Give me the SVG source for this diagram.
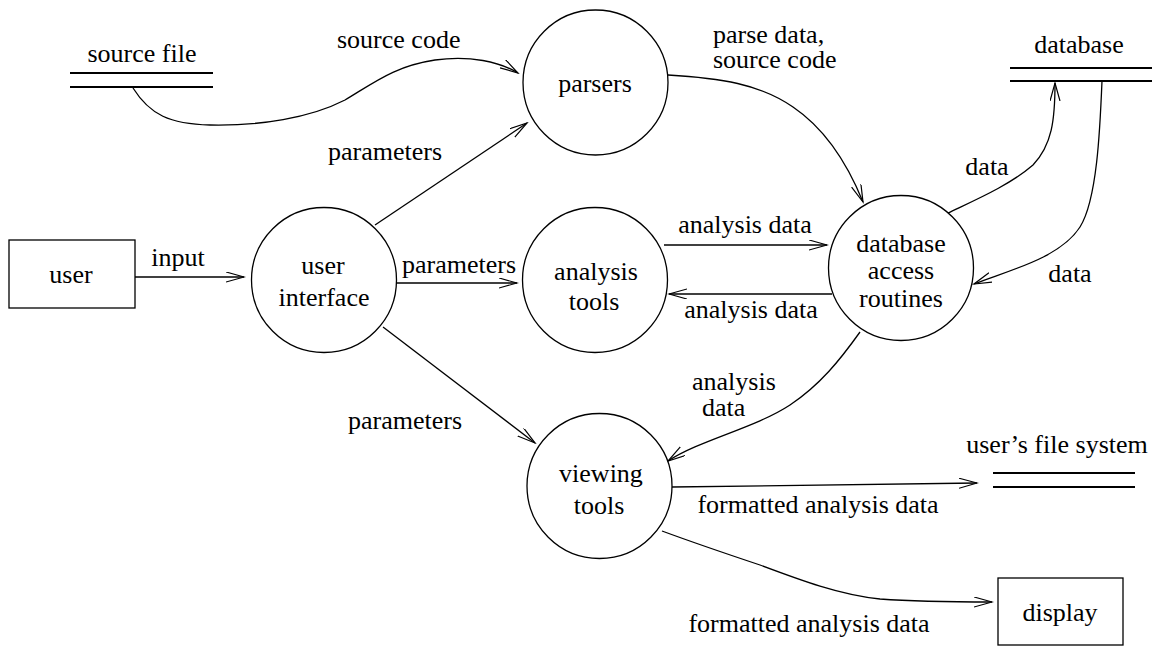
<svg xmlns="http://www.w3.org/2000/svg" width="1159" height="646" viewBox="0 0 1159 646">
  <style>
    text { font-family: 'Liberation Serif', 'Times New Roman', serif; font-size: 26px; fill: #000; }
    .c { text-anchor: middle; }
    .node { fill: #fff; stroke: #000; stroke-width: 1.3; }
    .store { stroke: #000; stroke-width: 2.2; }
    .flow { fill: none; stroke: #000; stroke-width: 1.3; marker-end: url(#arrow); }
  </style>
  <defs>
    <!-- open, narrow arrowhead used on every data flow -->
    <marker id="arrow" markerUnits="userSpaceOnUse" markerWidth="20" markerHeight="12" refX="18" refY="5" orient="auto" viewBox="0 0 20 12">
      <path d="M0,0 L18,5 L0,10" fill="none" stroke="#000" stroke-width="1.2"/>
    </marker>
  </defs>

  <!-- data flows -->
  <g id="connectors">
    <path class="flow" d="M135,277 L244,277"/>
    <path class="flow" d="M133,88 C150,115 170,124 210,125 C260,126 310,118 345,100 C375,82 395,66 435,60 C470,55 500,62 518,73"/>
    <path class="flow" d="M375,225 L527,123"/>
    <path class="flow" d="M396,283 L517,283"/>
    <path class="flow" d="M383,327 L535,443"/>
    <path class="flow" d="M668,75 C720,78 760,84 793,107 C830,132 850,170 863,202"/>
    <path class="flow" d="M664,245 L827,245"/>
    <path class="flow" d="M832,294 L669,294"/>
    <path class="flow" d="M948,213 C975,200 1010,185 1033,165 C1052,145 1055,120 1055,83"/>
    <path class="flow" d="M1102,81 C1100,130 1097,200 1080,227 C1060,258 1010,270 974,284"/>
    <path class="flow" d="M860,332 C840,360 820,385 790,405 C755,428 700,440 668,461"/>
    <path class="flow" d="M672,487 L977,483"/>
    <path class="flow" d="M662,531 C700,545 730,555 760,565 C800,580 840,595 880,599 C920,602 960,602 992,602"/>
  </g>

  <!-- flow labels -->
  <g id="labels">
    <text class="c" x="178" y="266">input</text>
    <text x="337" y="48">source code</text>
    <text class="c" x="385" y="160">parameters</text>
    <text class="c" x="459" y="273">parameters</text>
    <text class="c" x="405" y="429">parameters</text>
    <text x="713" y="43">parse data,</text>
    <text x="713" y="68">source code</text>
    <text class="c" x="745" y="233">analysis data</text>
    <text class="c" x="751" y="318">analysis data</text>
    <text class="c" x="987" y="175">data</text>
    <text class="c" x="1070" y="282">data</text>
    <text x="692" y="390">analysis</text>
    <text x="702" y="416">data</text>
    <text class="c" x="818" y="513">formatted analysis data</text>
    <text class="c" x="809" y="632">formatted analysis data</text>
  </g>

  <!-- external entities -->
  <g id="user">
    <rect class="node" x="9" y="240" width="126" height="68"/>
    <text class="c" x="71" y="283">user</text>
  </g>
  <g id="display">
    <rect class="node" x="998" y="578" width="125" height="67"/>
    <text class="c" x="1060" y="621">display</text>
  </g>

  <!-- data stores -->
  <g id="source-file">
    <line class="store" x1="70" y1="73" x2="213" y2="73"/>
    <line class="store" x1="70" y1="87" x2="213" y2="87"/>
    <text class="c" x="142" y="62">source file</text>
  </g>
  <g id="database">
    <line class="store" x1="1010" y1="68" x2="1152" y2="68"/>
    <line class="store" x1="1010" y1="81" x2="1152" y2="81"/>
    <text class="c" x="1079" y="53">database</text>
  </g>
  <g id="users-file-system">
    <line class="store" x1="993" y1="473" x2="1135" y2="473"/>
    <line class="store" x1="993" y1="487" x2="1135" y2="487"/>
    <text class="c" x="1057" y="453">user’s file system</text>
  </g>

  <!-- processes -->
  <g id="parsers">
    <circle class="node" cx="595.5" cy="82.5" r="72.5"/>
    <text class="c" x="595" y="92">parsers</text>
  </g>
  <g id="user-interface">
    <circle class="node" cx="324" cy="280" r="72.5"/>
    <text class="c" x="323" y="274">user</text>
    <text class="c" x="324" y="306">interface</text>
  </g>
  <g id="analysis-tools">
    <circle class="node" cx="595" cy="280" r="72.5"/>
    <text class="c" x="596" y="280">analysis</text>
    <text class="c" x="594" y="310">tools</text>
  </g>
  <g id="database-access-routines">
    <circle class="node" cx="901" cy="268" r="72.5"/>
    <text class="c" x="901" y="252">database</text>
    <text class="c" x="901" y="279">access</text>
    <text class="c" x="901" y="307">routines</text>
  </g>
  <g id="viewing-tools">
    <circle class="node" cx="599.5" cy="486" r="72.5"/>
    <text class="c" x="601" y="482">viewing</text>
    <text class="c" x="599" y="514">tools</text>
  </g>
</svg>
